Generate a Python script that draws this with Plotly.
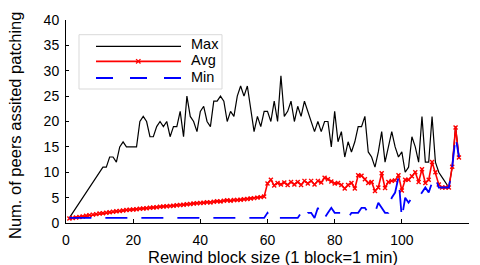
import plotly.graph_objects as go

# ---------------- data ----------------
x_vals = list(range(1, 118))

max_x = [1] + list(range(11, 118))
max_y = [1,
         11, 11, 13, 13, 12, 15, 16, 15, 15, 15,          # 11-20
         15, 20, 21, 20, 17, 17, 19, 20, 19, 20,          # 21-30
         17, 19, 19, 22, 17, 25, 21, 20, 18, 22,          # 31-40
         23, 20, 19, 24, 24, 25, 24, 20, 22, 21,          # 41-50
         25, 27, 25, 27, 22, 18, 21, 19, 22, 22,          # 51-60
         20, 24, 20, 29, 21, 22, 24, 20, 23, 21,          # 61-70
         24, 22, 20, 18, 20, 18, 20, 20, 15, 22,          # 71-80
         16, 18, 13, 16, 14, 16, 19, 19, 21, 14,          # 81-90
         13, 11, 14, 18, 12, 15, 18, 15, 13, 14,          # 91-100
         10, 11, 17, 15, 12, 21, 12, 12, 21, 12,          # 101-110
         10, 9, 8, 7, 11, 19, 13]                         # 111-117

avg_y = [0.9, 1.0, 1.1, 1.2, 1.3, 1.45, 1.55, 1.65, 1.75, 1.85,     # 1-10
         1.9, 2.0, 2.1, 2.2, 2.3, 2.35, 2.45, 2.55, 2.6, 2.65,      # 11-20
         2.7, 2.8, 2.85, 2.9, 3.0, 3.05, 3.1, 3.2, 3.25, 3.3,       # 21-30
         3.35, 3.4, 3.5, 3.55, 3.6, 3.7, 3.75, 3.85, 3.9, 3.95,     # 31-40
         4.0, 4.1, 4.05, 4.2, 4.3, 4.25, 4.4, 4.5, 4.4, 4.55,       # 41-50
         4.55, 4.6, 4.7, 4.75, 4.85, 4.9, 5.0, 5.1, 5.2, 7.8,       # 51-60
         8.5, 7.4, 7.9, 7.6, 8.0, 7.5, 8.1, 7.6, 8.1, 7.5,          # 61-70
         8.3, 7.8, 8.3, 7.6, 8.3, 8.0, 8.9, 8.6, 8.2, 7.8,          # 71-80
         7.9, 7.5, 6.8, 7.5, 7.9, 6.8, 9.4, 9.3, 8.6, 7.9,          # 81-90
         8.1, 6.3, 7.0, 9.8, 6.9, 8.1, 8.3, 8.4, 9.4, 6.4,          # 91-100
         8.5, 8.5, 9.2, 10.0, 8.1, 10.6, 7.9, 8.5, 12.0, 10.0,      # 101-110
         7.6, 7.0, 7.0, 7.0, 11.1, 18.8, 12.9]                      # 111-117

min_y = [1] * 59 + [                                                # 1-59
         2,                                                         # 60
         1, 1, 1, 1, 1, 1, 1, 1, 1, 2,                              # 61-70
         1, 2, 2, 1, 3, 1, 1, 2, 3, 2,                              # 71-80
         2, 2, 2, 1, 2, 2, 2, 3, 3, 2,                              # 81-90
         2, 2, 4, 3, 2, 2, 5, 6, 9, 1,                              # 91-100
         5, 4, 5, 5, 5, 6, 7, 6, 8, 9,                              # 101-110
         7, 7, 7, 7, 11, 17, 13]                                    # 111-117

x_ticks = [0, 20, 40, 60, 80, 100, 120]
y_ticks = [0, 5, 10, 15, 20, 25, 30, 35, 40]
series_names = ["Max", "Avg", "Min"]
x_title = "Rewind block size (1 block=1 min)"
y_title = "Num. of peers assited patching"

# ---------------- layout constants ----------------
WIDTH, HEIGHT = 480, 265
L, R, T, B = 66, 11, 20, 42
PW, PH = WIDTH - L - R, HEIGHT - T - B
FONT = "Liberation Sans, Arial, Helvetica, sans-serif"


def fx(px):
    return (px - L) / PW


def fy(py):
    return (T + PH - py) / PH


fig = go.Figure()
fig.add_trace(go.Scatter(x=max_x, y=max_y, mode="lines", name=series_names[0],
                         line=dict(color="black", width=1.2)))
fig.add_trace(go.Scatter(x=x_vals, y=avg_y, mode="lines+markers", name=series_names[1],
                         line=dict(color="red", width=1.6),
                         marker=dict(symbol="x-thin", size=4, color="red",
                                     line=dict(color="red", width=1.4))))
fig.add_trace(go.Scatter(x=x_vals, y=min_y, mode="lines", name=series_names[2],
                         line=dict(color="blue", width=1.8, dash="22px,14px")))

# ---------------- manual legend ----------------
shapes = [dict(type="rect", xref="paper", yref="paper",
               x0=fx(79), x1=fx(222), y0=fy(89), y1=fy(34.7),
               line=dict(color="#d9d9d9", width=1), fillcolor="white", layer="above")]
rows = [(46.3, "black", 1.2, "solid"), (61.3, "red", 1.8, "solid"), (78, "blue", 1.8, "17px,17px")]
text_y = [44.0, 60.3, 76.6]
annotations = []
for (py, col, w, dash), ty, name in zip(rows, text_y, series_names):
    shapes.append(dict(type="line", xref="paper", yref="paper",
                       x0=fx(96), x1=fx(181), y0=fy(py), y1=fy(py),
                       line=dict(color=col, width=w, dash=dash), layer="above"))
    annotations.append(dict(xref="paper", yref="paper", x=fx(188.5), y=fy(ty),
                            xanchor="left", yanchor="middle", text=name, showarrow=False,
                            font=dict(family=FONT, size=14.5, color="black")))
# x marker in the Avg sample
mx, my, d = 138.3, 61.3, 2.2
shapes.append(dict(type="line", xref="paper", yref="paper", x0=fx(mx - d), x1=fx(mx + d),
                   y0=fy(my - d), y1=fy(my + d), line=dict(color="red", width=1.3), layer="above"))
shapes.append(dict(type="line", xref="paper", yref="paper", x0=fx(mx - d), x1=fx(mx + d),
                   y0=fy(my + d), y1=fy(my - d), line=dict(color="red", width=1.3), layer="above"))

# axis titles as annotations for exact placement
annotations.append(dict(xref="paper", yref="paper", x=fx(273), y=fy(256.5),
                        xanchor="center", yanchor="middle", text=x_title, showarrow=False,
                        font=dict(family=FONT, size=16.5, color="black")))
annotations.append(dict(xref="paper", yref="paper", x=fx(15), y=fy(126),
                        xanchor="center", yanchor="middle", text=y_title, showarrow=False,
                        textangle=-90,
                        font=dict(family=FONT, size=16.5, color="black")))

fig.update_layout(
    width=WIDTH, height=HEIGHT,
    margin=dict(l=L, r=R, t=T, b=B, pad=0, autoexpand=False),
    paper_bgcolor="white", plot_bgcolor="white",
    showlegend=False,
    font=dict(family=FONT, size=14, color="black"),
    shapes=shapes,
    annotations=annotations,
)
fig.update_xaxes(range=[0, 120], tickvals=x_ticks, ticks="inside", ticklen=4,
                 tickcolor="black", showline=True, linecolor="black", linewidth=1,
                 showgrid=False, zeroline=False, mirror=False, automargin=False,
                 tickfont=dict(size=14), ticklabelstandoff=4)
fig.update_yaxes(range=[0, 40], tickvals=y_ticks, ticks="inside", ticklen=3,
                 tickcolor="black", showline=True, linecolor="black", linewidth=1,
                 showgrid=False, zeroline=False, mirror=False, automargin=False,
                 tickfont=dict(size=14), ticklabelstandoff=3)

fig.write_html("out.html", config={"displayModeBar": False},
               post_script="document.body.style.margin='0';document.body.style.padding='0';")
